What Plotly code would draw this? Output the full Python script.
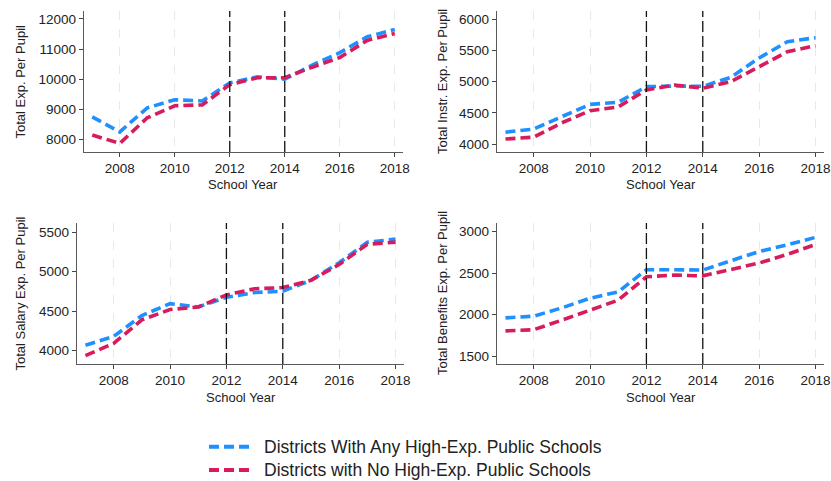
import plotly.graph_objects as go
from plotly.subplots import make_subplots

# School years covered by the panels
years = [2007, 2008, 2009, 2010, 2011, 2012, 2013, 2014, 2015, 2016, 2017, 2018]

# Total expenditure per pupil
total_any = [8750, 8250, 9050, 9320, 9280, 9880, 10080, 10000, 10470, 10880, 11410, 11650]
total_none = [8150, 7870, 8720, 9120, 9150, 9820, 10050, 10050, 10400, 10720, 11290, 11520]

# Total instructional expenditure per pupil
instr_any = [4190, 4240, 4440, 4636, 4670, 4920, 4930, 4925, 5070, 5380, 5640, 5705]
instr_none = [4080, 4110, 4340, 4535, 4595, 4868, 4946, 4895, 5000, 5245, 5480, 5577]

# Total salary expenditure per pupil
salary_any = [4070, 4180, 4445, 4595, 4553, 4675, 4735, 4752, 4890, 5112, 5370, 5410]
salary_none = [3938, 4092, 4390, 4520, 4553, 4705, 4783, 4798, 4890, 5090, 5345, 5372]

# Total benefits expenditure per pupil
benefit_any = [1962, 1982, 2082, 2198, 2274, 2540, 2540, 2535, 2648, 2758, 2838, 2928]
benefit_none = [1806, 1820, 1935, 2055, 2175, 2455, 2475, 2466, 2542, 2620, 2724, 2842]

series_names = ["Districts With Any High-Exp. Public Schools",
                "Districts with No High-Exp. Public Schools"]
y_titles = ["Total Exp. Per Pupil", "Total Instr. Exp. Per Pupil",
            "Total Salary Exp. Per Pupil", "Total Benefits Exp. Per Pupil"]
x_title = "School Year"
policy_years = [2012, 2014]
x_ticks = [2008, 2010, 2012, 2014, 2016, 2018]
y_ticks = [[8000, 9000, 10000, 11000, 12000],
           [4000, 4500, 5000, 5500, 6000],
           [4000, 4500, 5000, 5500],
           [1500, 2000, 2500, 3000]]

panels = [(total_any, total_none), (instr_any, instr_none),
          (salary_any, salary_none), (benefit_any, benefit_none)]

BLUE = "#1e90ff"
RED = "#d81b5c"
COLORS = [BLUE, RED]
DASH = "10px,5px"
FONT = "Liberation Sans, Arial, sans-serif"
W, H = 831, 481

fig = make_subplots(rows=2, cols=2)

# pixel boxes (left, right, top, bottom) of each plotting area
boxes = [(84, 403, 11, 152), (497, 824, 11, 152),
         (77, 404, 223, 364), (497, 824, 223, 364)]
y_ranges = [[7585, 12265], [3872, 6133], [3832, 5614], [1409, 3100]]

for i, pair in enumerate(panels):
    r, c = i // 2 + 1, i % 2 + 1
    for k, vals in enumerate(pair):
        fig.add_trace(go.Scatter(x=years, y=vals, mode="lines", name=series_names[k],
                                 line=dict(color=COLORS[k], width=3.6, dash=DASH),
                                 showlegend=False), row=r, col=c)

axis_common = dict(showline=True, linecolor="#5a5a5a", linewidth=1.4,
                   ticks="outside", ticklen=4, tickwidth=1.2, tickcolor="#444",
                   tickfont=dict(family=FONT, size=13.5, color="#222"),
                   zeroline=False, mirror=False, tickformat="d")

for i in range(4):
    l, rgt, t, btm = boxes[i]
    sfx = "" if i == 0 else str(i + 1)
    fig.layout["xaxis" + sfx].update(
        domain=[l / W, rgt / W], range=[2006.7, 2018.3],
        tickvals=x_ticks, showgrid=True, gridcolor="#e9e9e9", gridwidth=1,
        griddash="dash", **axis_common)
    fig.layout["yaxis" + sfx].update(
        domain=[1 - btm / H, 1 - t / H], range=y_ranges[i],
        tickvals=y_ticks[i], showgrid=False, **axis_common)

    for yr in policy_years:
        fig.add_shape(type="line", xref="x" + sfx, yref="y" + sfx + " domain",
                      x0=yr, x1=yr, y0=0, y1=1,
                      line=dict(color="#111", width=1.3, dash="11px,4px"))

    # axis titles
    fig.add_annotation(text=y_titles[i], xref="paper", yref="paper",
                       x=(20 if i % 2 == 0 else 442.5) / W,
                       y=1 - (t + btm) / 2 / H, textangle=-90,
                       showarrow=False, xanchor="center", yanchor="middle",
                       font=dict(family=FONT, size=13, color="#222"))
    fig.add_annotation(text=x_title, xref="paper", yref="paper",
                       x=(l + rgt) / 2 / W, y=1 - (btm + 33) / H,
                       showarrow=False, xanchor="center", yanchor="middle",
                       font=dict(family=FONT, size=13, color="#222"))

# legend key below the panels
key_rows = [446.7, 470]
for k, name in enumerate(series_names):
    yk = 1 - key_rows[k] / H
    fig.add_shape(type="line", xref="paper", yref="paper",
                  x0=209 / W, x1=251 / W, y0=yk, y1=yk,
                  line=dict(color=COLORS[k], width=4, dash=DASH))
    fig.add_annotation(text=name, xref="paper", yref="paper",
                       x=262 / W, y=yk, xanchor="left", yanchor="middle",
                       showarrow=False,
                       font=dict(family=FONT, size=17.5, color="#222"))

fig.update_layout(
    width=W, height=H,
    margin=dict(l=0, r=0, t=0, b=0, autoexpand=False),
    paper_bgcolor="white", plot_bgcolor="white",
    showlegend=False,
)

fig.write_html("out.html")
